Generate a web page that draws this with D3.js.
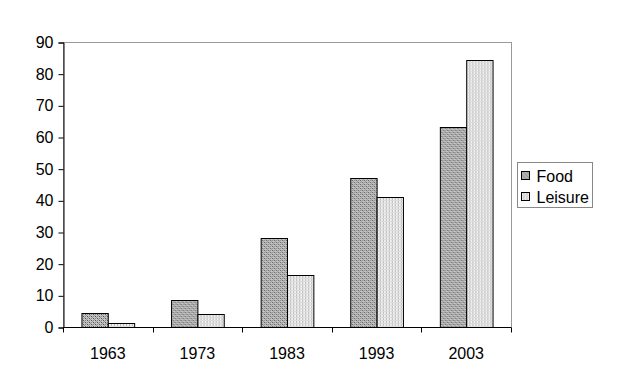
<!DOCTYPE html>
<html>
<head>
<meta charset="utf-8">
<script src="https://cdn.jsdelivr.net/npm/d3@7"></script>
<style>
  body { margin: 0; background: #fff; }
  svg text { font-family: "Liberation Sans", Arial, sans-serif; font-size: 16px; fill: #000; }
</style>
</head>
<body>
<div id="chart"></div>
<script>
const years = ["1963", "1973", "1983", "1993", "2003"];
const seriesNames = ["Food", "Leisure"];
const food = [4.5, 8.5, 28, 47.1, 63.2];
const leisure = [1.4, 4, 16.4, 41, 84.2];
const yTicks = [0, 10, 20, 30, 40, 50, 60, 70, 80, 90];

const width = 618;
const height = 368;
const margin = { top: 42, left: 63, right: 107, bottom: 41 };

const svg = d3.select("#chart")
  .append("svg")
  .attr("width", width)
  .attr("height", height);

// hatch patterns like the old excel fills
const defs = svg.append("defs");
const pFood = defs.append("pattern")
  .attr("id", "pFood")
  .attr("width", 4).attr("height", 4)
  .attr("patternUnits", "userSpaceOnUse");
pFood.append("rect").attr("width", 4).attr("height", 4).attr("fill", "#c4c4c4");
[[0, 0], [2, 2], [2, 0], [0, 2]].forEach((p, i) => {
  pFood.append("rect").attr("x", p[0]).attr("y", p[1])
    .attr("width", 1).attr("height", 1)
    .attr("fill", i < 2 ? "#555" : "#888");
});
pFood.append("rect").attr("x", 1).attr("y", 1).attr("width", 1).attr("height", 1).attr("fill", "#999");
pFood.append("rect").attr("x", 3).attr("y", 3).attr("width", 1).attr("height", 1).attr("fill", "#999");

const pLeis = defs.append("pattern")
  .attr("id", "pLeis")
  .attr("width", 3).attr("height", 3)
  .attr("patternUnits", "userSpaceOnUse");
pLeis.append("rect").attr("width", 3).attr("height", 3).attr("fill", "#f0f0f0");
pLeis.append("rect").attr("x", 0).attr("width", 1).attr("height", 3).attr("fill", "#b8b8b8");
pLeis.append("rect").attr("y", 2).attr("width", 3).attr("height", 1).attr("fill", "#dcdcdc");

const fills = ["url(#pFood)", "url(#pLeis)"];

const x0 = d3.scaleBand()
  .domain(years)
  .range([margin.left, width - margin.right]);

const x1 = d3.scaleBand()
  .domain(seriesNames)
  .range([0, x0.bandwidth()])
  .paddingOuter(0.7);

const y = d3.scaleLinear()
  .domain([0, 90])
  .range([height - margin.bottom, margin.top]);

// plot frame (top/right gray)
svg.append("rect")
  .attr("x", margin.left + 0.5)
  .attr("y", margin.top + 0.5)
  .attr("width", width - margin.right - margin.left)
  .attr("height", height - margin.bottom - margin.top)
  .attr("fill", "none")
  .attr("stroke", "#999");

const rows = years.map((yr, i) => ({ year: yr, values: [food[i], leisure[i]] }));

const groups = svg.append("g")
  .selectAll("g")
  .data(rows)
  .join("g")
  .attr("transform", d => `translate(${x0(d.year)},0)`);

groups.selectAll("rect")
  .data(d => d.values.map((v, k) => ({ key: seriesNames[k], value: v, k: k })))
  .join("rect")
  .attr("x", d => x1(d.key) + 0.5)
  .attr("y", d => Math.round(y(d.value)) + 0.5)
  .attr("width", x1.bandwidth())
  .attr("height", d => y(0) - Math.round(y(d.value)))
  .attr("fill", d => fills[d.k])
  .attr("stroke", "#000")
  .attr("stroke-width", 1);

// y axis
const yAxis = svg.append("g")
  .attr("transform", `translate(${margin.left + 0.5},0.5)`)
  .call(d3.axisLeft(y).tickValues(yTicks).tickSize(5).tickPadding(5));
yAxis.attr("font-size", null).attr("font-family", null);
yAxis.select(".domain").attr("stroke", "#000");

// x axis
const xTickPos = years.map(yr => x0(yr)).concat([width - margin.right]);
const xAxis = svg.append("g").attr("transform", `translate(0,${y(0) + 0.5})`);
xAxis.append("line")
  .attr("x1", margin.left).attr("x2", width - margin.right)
  .attr("stroke", "#000");
xAxis.selectAll("line.tk")
  .data(xTickPos)
  .join("line")
  .attr("class", "tk")
  .attr("x1", d => Math.round(d) + 0.5).attr("x2", d => Math.round(d) + 0.5)
  .attr("y1", 0).attr("y2", 5)
  .attr("stroke", "#000");
xAxis.selectAll("text")
  .data(years)
  .join("text")
  .attr("x", d => x0(d) + x0.bandwidth() / 2)
  .attr("y", 31)
  .attr("text-anchor", "middle")
  .text(d => d);

// legend
const lg = svg.append("g").attr("transform", "translate(517.5,162.5)");
lg.append("rect")
  .attr("width", 75).attr("height", 45)
  .attr("fill", "#fff").attr("stroke", "#888");
seriesNames.forEach((s, i) => {
  lg.append("rect")
    .attr("x", 4).attr("y", 9 + i * 21)
    .attr("width", 8).attr("height", 8)
    .attr("fill", fills[i]).attr("stroke", "#000");
  lg.append("text")
    .attr("x", 19).attr("y", 19 + i * 21)
    .text(s);
});
</script>
</body>
</html>
